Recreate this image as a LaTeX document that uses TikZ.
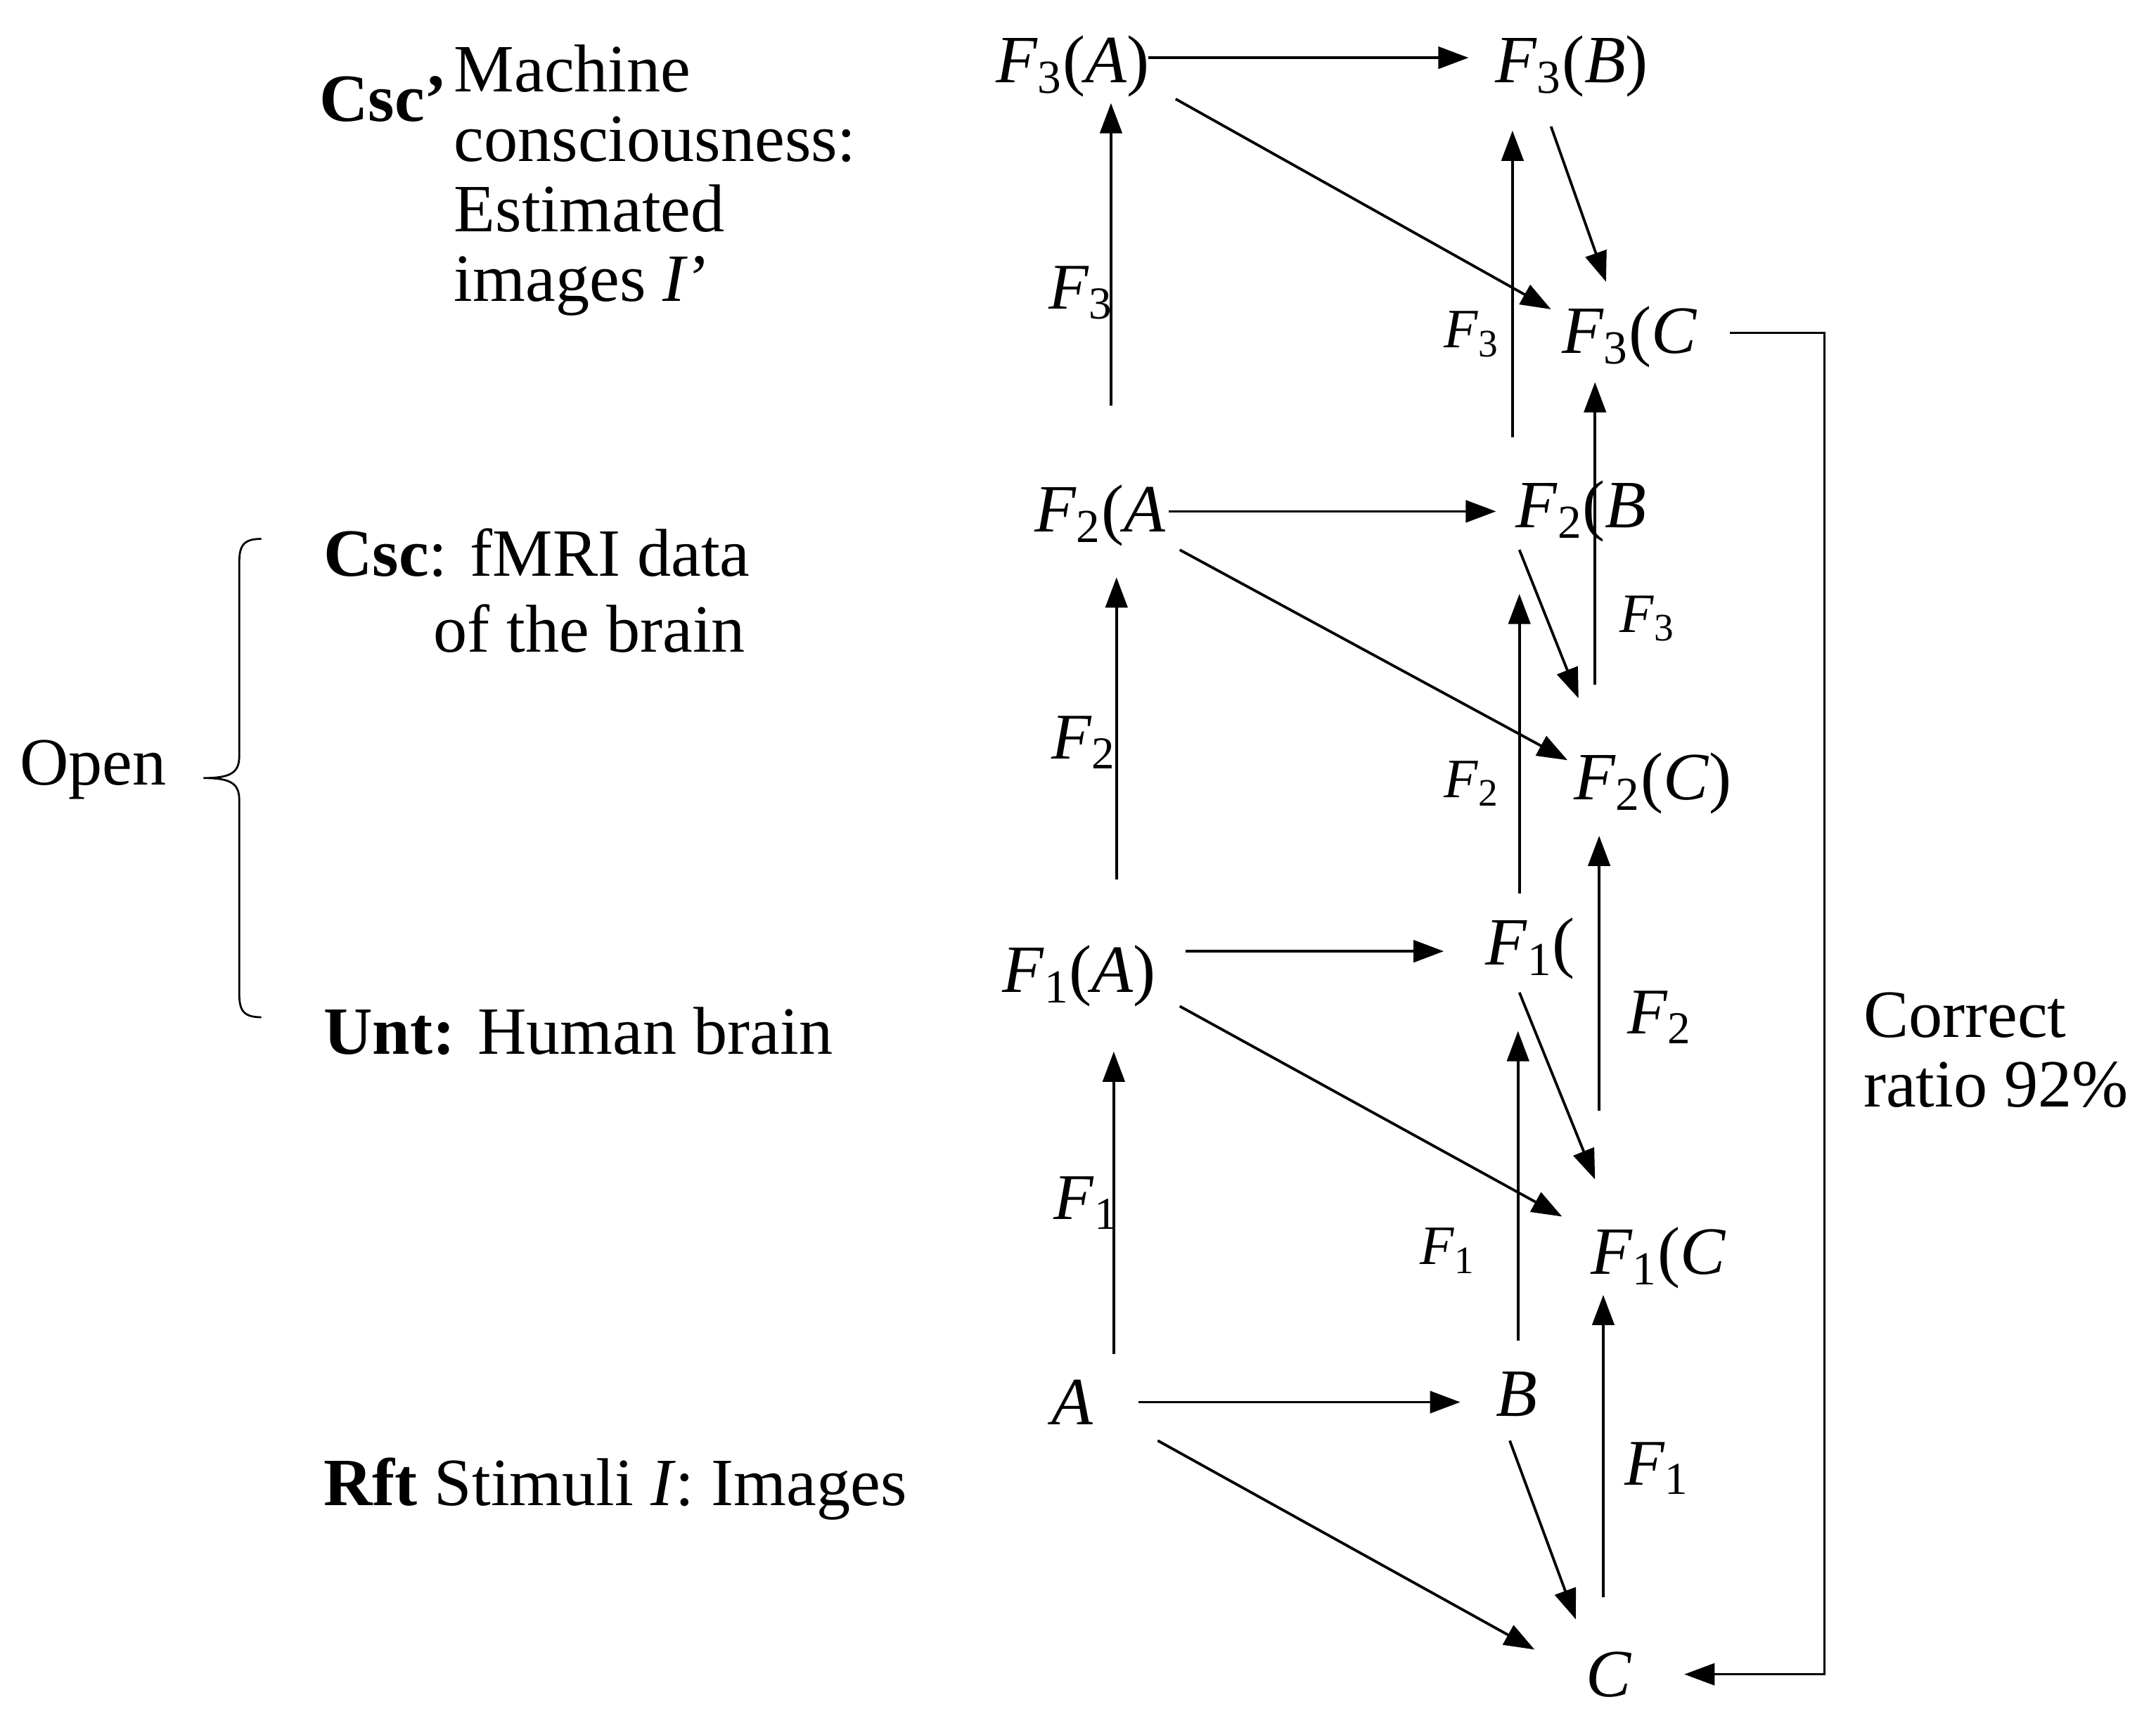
\documentclass[tikz,border=0pt]{standalone}
\usepackage{fontspec}
\setmainfont{Liberation Serif}
\usetikzlibrary{arrows.meta}
\newcommand{\FF}[2]{\textit{F}\textsubscript{#1}#2}
\begin{document}
\begin{tikzpicture}[x=0.02cm,y=-0.02cm,
  every node/.style={font=\fontsize{28}{29}\selectfont,inner sep=0pt},
  lab/.style={font=\fontsize{27}{28}\selectfont},
  sm/.style={font=\fontsize{23}{25}\selectfont},
  ar/.style={line width=1.1pt,-{Triangle[length=0.44cm,width=0.32cm]}},
  ln/.style={line width=0.8pt}]
\useasboundingbox (0,0) rectangle (1568,1262);
% formula nodes
\node (f3a) at (780,48) {\FF{3}{(\textit{A})}};
\node (f3b) at (1143,48) {\FF{3}{(\textit{B})}};
\node (f3c) at (1185,245) {\FF{3}{(\textit{C}}};
\node (f2a) at (800,375) {\FF{2}{(\textit{A}}};
\node (f2b) at (1150,372) {\FF{2}{(\textit{B}}};
\node (f2c) at (1202,570) {\FF{2}{(\textit{C})}};
\node (f1a) at (785,710) {\FF{1}{(\textit{A})}};
\node (f1b) at (1113,690) {\FF{1}{(}};
\node (f1c) at (1206,915) {\FF{1}{(\textit{C}}};
\node (a) at (780,1020) {\textit{A}};
\node (b) at (1103,1014) {\textit{B}};
\node (c) at (1170,1218) {\textit{C}};
% function labels
\node[lab] (l1) at (786,213) {\FF{3}{}};
\node[sm] (l2) at (1070,243) {\FF{3}{}};
\node[sm] (l3) at (1198,450) {\FF{3}{}};
\node[lab] (l4) at (788,540) {\FF{2}{}};
\node[sm] (l5) at (1070,570) {\FF{2}{}};
\node[lab] (l6) at (1207,740) {\FF{2}{}};
\node[lab] (l7) at (790,875) {\FF{1}{}};
\node[sm] (l8) at (1053,910) {\FF{1}{}};
\node[lab] (l9) at (1205,1068) {\FF{1}{}};
% horizontal
\draw[ar] (835,42) -- (1068,42);
\draw[ar] (850,372) -- (1088,372);
\draw[ar] (862,692) -- (1050,692);
\draw[ar] (828,1020) -- (1062,1020);
% vertical
\draw[ar] (808,295) -- (808,75);
\draw[ar] (812,640) -- (812,420);
\draw[ar] (810,985) -- (810,765);
\draw[ar] (1100,318) -- (1100,95);
\draw[ar] (1105,650) -- (1105,432);
\draw[ar] (1104,975) -- (1104,750);
\draw[ar] (1160,498) -- (1160,278);
\draw[ar] (1163,808) -- (1163,608);
\draw[ar] (1166,1162) -- (1166,942);
% diagonals
\draw[ar] (855,72) -- (1128,225);
\draw[ar] (858,400) -- (1140,553);
\draw[ar] (858,732) -- (1136,885);
\draw[ar] (842,1048) -- (1116,1200);
\draw[ar] (1128,92) -- (1168,205);
\draw[ar] (1105,400) -- (1148,508);
\draw[ar] (1105,722) -- (1160,858);
\draw[ar] (1098,1048) -- (1146,1178);
% feedback
\draw[ln,-{Triangle[length=0.44cm,width=0.32cm]}] (1258,242) -- (1327,242) -- (1327,1218) -- (1225,1218);
\node[anchor=west,align=left] (cr) at (1355,764) {Correct\\ratio 92\%};
% brace
\draw[ln] (190,392) .. controls (176,392) and (174,398) .. (174,410) -- (174,550) .. controls (174,562) and (168,566) .. (148,566) .. controls (168,566) and (174,570) .. (174,582) -- (174,722) .. controls (174,734) and (176,740) .. (190,740);
\node[anchor=west] (open) at (14,560) {Open};
% left texts
\node[anchor=west] (csc1) at (232,72) {\textbf{Csc'}};
\node[anchor=north west,align=left] (mc) at (330,32) {Machine\\consciousness:\\Estimated\\images \textit{I}'};
\node[anchor=west] (csc2) at (235,402) {\textbf{Csc}: fMRI data};
\node[anchor=west] (csc2b) at (315,457) {of the brain};
\node[anchor=west] (unt) at (235,750) {\textbf{Unt:} Human brain};
\node[anchor=west] (rft) at (235,1083) {\textbf{Rft} Stimuli \textit{I}: Images};
\end{tikzpicture}
\end{document}
